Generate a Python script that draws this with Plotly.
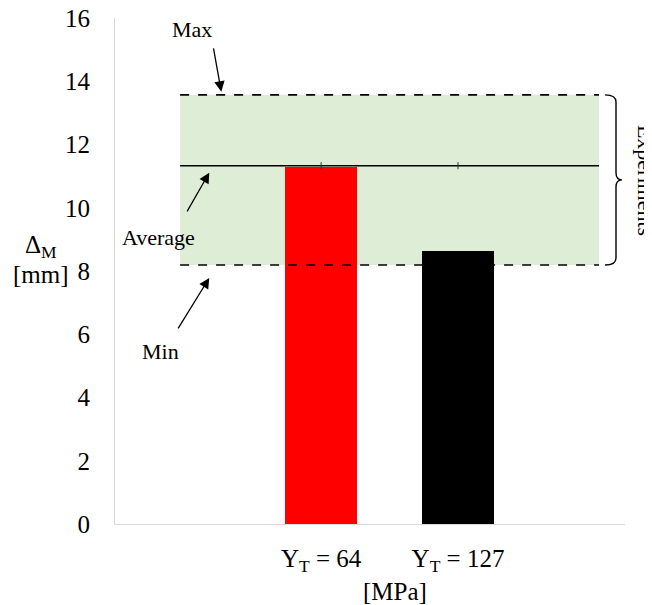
import plotly.graph_objects as go

categories = ["Y<sub>T</sub> = 64", "Y<sub>T</sub> = 127"]
cat_pos = [1, 2]
bar_values = [11.29, 8.63]
bar_colors = ["#FF0000", "#000000"]
exp_max = 13.57
exp_min = 8.19
exp_avg = 11.33
band_x = [-0.03, 3.03]
y_ticks = [0, 2, 4, 6, 8, 10, 12, 14, 16]

FONT = "Liberation Serif"
fig = go.Figure()

# green experiments band (below bars)
fig.add_shape(type="rect", xref="x", yref="y", x0=band_x[0], x1=band_x[1],
              y0=exp_min, y1=exp_max, fillcolor="rgb(222,237,214)",
              line=dict(width=0), layer="below")

fig.add_trace(go.Bar(x=cat_pos, y=bar_values, marker=dict(color=bar_colors, line=dict(width=0)),
                     width=0.527, showlegend=False))

fig.add_trace(go.Scatter(x=band_x, y=[exp_max, exp_max], mode="lines",
                         line=dict(color="black", width=1.6, dash="dash"), showlegend=False))
fig.add_trace(go.Scatter(x=band_x, y=[exp_min, exp_min], mode="lines",
                         line=dict(color="black", width=1.6, dash="dash"), showlegend=False))
fig.add_trace(go.Scatter(x=[band_x[0], band_x[1]], y=[exp_avg] * 2,
                         mode="lines", line=dict(color="black", width=1.5), showlegend=False))
fig.add_trace(go.Scatter(x=cat_pos, y=[exp_avg] * 2, mode="markers",
                         marker=dict(symbol="line-ns", size=5, line=dict(color="#333", width=1)),
                         showlegend=False))

fig.update_layout(
    width=644, height=597,
    margin=dict(l=107, r=27, t=10, b=81, autoexpand=False),
    plot_bgcolor="white", paper_bgcolor="white",
    font=dict(family=FONT, size=25, color="black"),
    bargap=0,
)
fig.update_xaxes(range=[-0.5055, 3.2198], tickvals=cat_pos, ticktext=categories,
                 showgrid=False, zeroline=False, showline=True, linecolor="#D9D9D9",
                 linewidth=1, ticks="", tickfont=dict(size=25, family=FONT),
                 ticklabelstandoff=12, automargin=False)
fig.update_yaxes(range=[0, 16], tickvals=y_ticks, showgrid=False, zeroline=False,
                 showline=True, linecolor="#D9D9D9", linewidth=1, ticks="",
                 tickfont=dict(size=25, family=FONT), ticklabelstandoff=19,
                 ticklabeloverflow="allow", automargin=False)

# axis titles
fig.add_annotation(xref="paper", yref="y", x=-0.146, y=8.76, text="Δ<sub>M</sub>",
                   showarrow=False, xanchor="center", yanchor="middle",
                   font=dict(size=25, family=FONT))
fig.add_annotation(xref="paper", yref="y", x=-0.146, y=7.9, text="[mm]",
                   showarrow=False, xanchor="center", yanchor="middle",
                   font=dict(size=25, family=FONT))
fig.add_annotation(xref="x", yref="paper", x=1.538, y=-0.134, text="[MPa]",
                   showarrow=False, xanchor="center", yanchor="middle",
                   font=dict(size=25, family=FONT))

# arrows
def arrow(tx, ty, ax, ay):
    fig.add_annotation(x=tx, y=ty, xref="x", yref="y", ax=ax, ay=ay, axref="x", ayref="y",
                       showarrow=True, arrowhead=2, arrowsize=1.6, arrowwidth=1.3,
                       arrowcolor="black", text="")
arrow(0.271, 13.67, 0.212, 15.09)
arrow(0.183, 11.11, 0.015, 9.84)
arrow(0.183, 7.78, -0.051, 6.14)
fig.add_annotation(x=0.057, y=15.63, xref="x", yref="y", text="Max", showarrow=False,
                   font=dict(size=22, family=FONT))
fig.add_annotation(x=-0.186, y=9.05, xref="x", yref="y", text="Average", showarrow=False,
                   font=dict(size=22, family=FONT))
fig.add_annotation(x=-0.171, y=5.44, xref="x", yref="y", text="Min", showarrow=False,
                   font=dict(size=22, family=FONT))

# brace (paper coords; plot spans 510 x 506 px)
def px(v):
    return (v - 115) / 510
def py(v):
    return v / 16
xa, xb, xc = px(605), px(616), px(622)
top, bot = py(exp_max), py(exp_min)
mid = (top + bot) / 2
r = 0.014
path = (f"M {xa},{top} Q {xb},{top} {xb},{top - r} L {xb},{mid + r} "
        f"Q {xb},{mid} {xc},{mid} Q {xb},{mid} {xb},{mid - r} "
        f"L {xb},{bot + r} Q {xb},{bot} {xa},{bot}")
fig.add_shape(type="path", xref="paper", yref="paper", path=path,
              line=dict(color="black", width=1.4))
fig.add_annotation(xref="paper", yref="paper", x=px(645), y=mid, text="Experiments",
                   textangle=90, showarrow=False, font=dict(size=22, family=FONT),
                   xanchor="center", yanchor="middle")

fig.write_html("out.html")
